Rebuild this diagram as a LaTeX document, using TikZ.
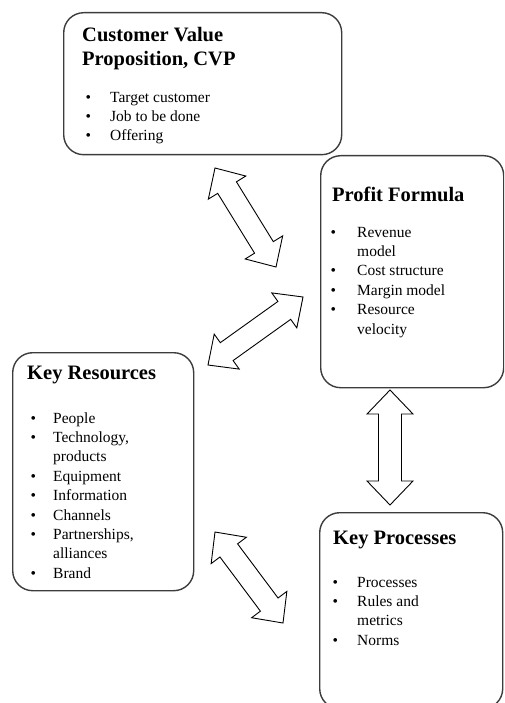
\documentclass[tikz,border=0pt]{standalone}
\usepackage{fontspec}
\setmainfont{Liberation Serif}
\usetikzlibrary{calc}

\definecolor{boxgray}{HTML}{3C3C3C}

\newcommand\titlefont{\fontsize{20.5}{24}\selectfont\bfseries}
\newcommand\bodyfont{\fontsize{15.5}{19.4}\selectfont}

% hollow two-headed block arrow between two named tips
% #1,#2 tips, #3 head length, #4 head half-width, #5 shaft half-width
\newcommand\dualarrow[5]{%
  \coordinate (#1-h) at ($(#1)!#3!(#2)$);
  \coordinate (#2-h) at ($(#2)!#3!(#1)$);
  \draw[twoway] (#1)
    -- ($(#1-h)!#4!90:(#2)$)
    -- ($(#1-h)!#5!90:(#2)$)
    -- ($(#2-h)!#5!-90:(#1)$)
    -- ($(#2-h)!#4!-90:(#1)$)
    -- (#2)
    -- ($(#2-h)!#4!90:(#1)$)
    -- ($(#2-h)!#5!90:(#1)$)
    -- ($(#1-h)!#5!-90:(#2)$)
    -- ($(#1-h)!#4!-90:(#2)$)
    -- cycle;}

\tikzset{
  card/.style={draw=boxgray, line width=1.4pt, rounded corners=20pt,
    anchor=north west, inner sep=0pt},
  heading/.style={anchor=base west, inner sep=0pt, font=\titlefont},
  itemlist/.style={anchor=base west, inner sep=0pt, font=\bodyfont},
  twoway/.style={draw=black, line width=0.9pt, fill=white, line join=miter},
}

\begin{document}
\begin{tikzpicture}[x=1pt, y=-1pt]
\useasboundingbox (0,0) rectangle (504,703);
\clip (0,0) rectangle (504,703);

% the four building blocks
\node[card, minimum width=278pt, minimum height=142pt] (cvp) at (63,12) {};
\node[card, minimum width=183pt, minimum height=232pt] (profit) at (320,155) {};
\node[card, minimum width=181pt, minimum height=238pt] (resources) at (12,352) {};
\node[card, minimum width=183pt, minimum height=196pt] (processes) at (319,512) {};

% Customer Value Proposition
\node[heading] (cvpT) at (82,42)
  {\begin{tabular}[t]{@{}l@{}}Customer Value\\Proposition, CVP\end{tabular}};
\node[itemlist, font=\fontsize{15.5}{19}\selectfont] (cvpL) at (85.5,103)
  {\begin{tabular}[t]{@{}p{24.5pt}@{}l@{}}
   \textbullet & Target customer\\
   \textbullet & Job to be done\\
   \textbullet & Offering
   \end{tabular}};

% Profit Formula
\node[heading] (profitT) at (332,202) {Profit Formula};
\node[itemlist] (profitL) at (330.5,237)
  {\begin{tabular}[t]{@{}p{26.5pt}@{}l@{}}
   \textbullet & Revenue\\
               & model\\
   \textbullet & Cost structure\\
   \textbullet & Margin model\\
   \textbullet & Resource\\
               & velocity
   \end{tabular}};

% Key Resources
\node[heading] (resT) at (27,379) {Key Resources};
\node[itemlist] (resL) at (30.5,423)
  {\begin{tabular}[t]{@{}p{22.5pt}@{}l@{}}
   \textbullet & People\\
   \textbullet & Technology,\\
               & products\\
   \textbullet & Equipment\\
   \textbullet & Information\\
   \textbullet & Channels\\
   \textbullet & Partnerships,\\
               & alliances\\
   \textbullet & Brand
   \end{tabular}};

% Key Processes
\node[heading] (procT) at (333,544) {Key Processes};
\node[itemlist] (procL) at (332.5,587)
  {\begin{tabular}[t]{@{}p{24.5pt}@{}l@{}}
   \textbullet & Processes\\
   \textbullet & Rules and\\
               & metrics\\
   \textbullet & Norms
   \end{tabular}};

% tips of the connecting arrows
\coordinate (cvpTip)   at (215,168);
\coordinate (pfTipA)   at (276,267);
\coordinate (pfTipB)   at (303,297);
\coordinate (resTipA)  at (208,365);
\coordinate (resTipB)  at (215,532);
\coordinate (procTipA) at (283,623);
\coordinate (pfTipC)   at (390,390);
\coordinate (procTipB) at (390,505);

\dualarrow{cvpTip}{pfTipA}{23pt}{22pt}{11pt}
\dualarrow{resTipA}{pfTipB}{23pt}{21.5pt}{11pt}
\dualarrow{resTipB}{procTipA}{23pt}{22pt}{11pt}
\dualarrow{pfTipC}{procTipB}{24pt}{23pt}{11.5pt}
\end{tikzpicture}
\end{document}
